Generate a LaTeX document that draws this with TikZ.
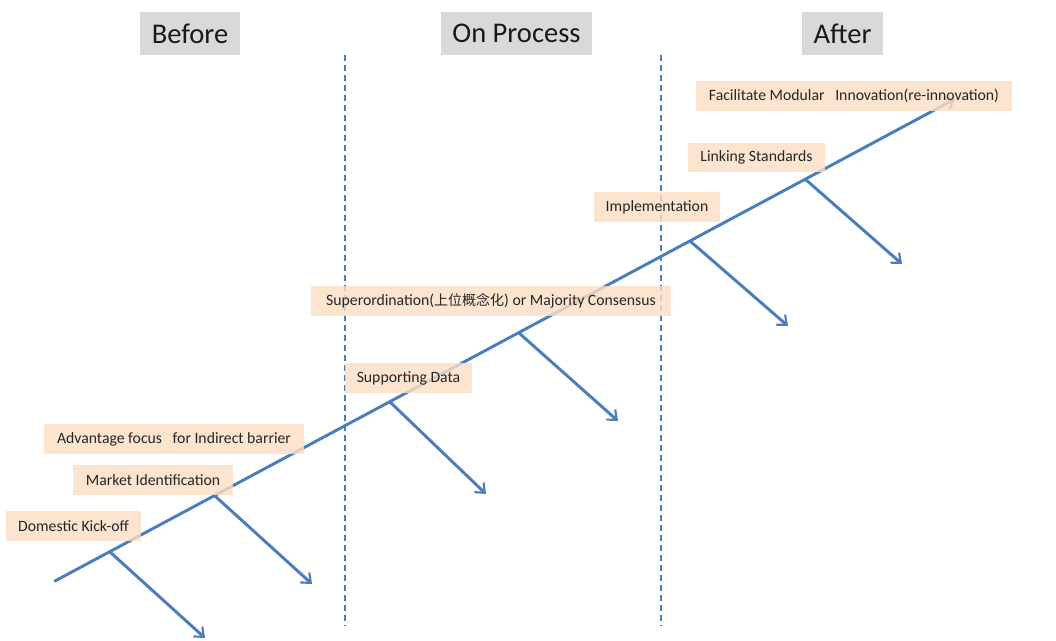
\documentclass[tikz,border=0pt]{standalone}
\usepackage{fontspec}
\setmainfont{Carlito}
\newfontfamily\cjk{Noto Sans CJK SC}
\usetikzlibrary{arrows.meta}
\definecolor{lineblue}{RGB}{74,126,187}
\definecolor{hdrgray}{RGB}{217,217,217}
\definecolor{peach}{RGB}{251,222,196}
\tikzset{
  hdr/.style={fill=hdrgray, inner sep=0pt, font=\fontsize{21.4}{24}\selectfont, text=black!90},
  tag/.style={fill=peach, fill opacity=0.82, text opacity=1, inner sep=0pt,
              minimum height=22.5pt, font=\fontsize{11.8}{13}\selectfont, text=black!85},
  spine/.style={draw=lineblue, line width=2.2pt, line cap=round,
                -{Straight Barb[length=6pt,width=10pt,line width=1.6pt]}},
  rib/.style={draw=lineblue, line width=2.2pt, line cap=round,
              -{Straight Barb[length=6pt,width=10pt,line width=1.6pt]}},
  phase/.style={draw=lineblue, line width=1.3pt, dash pattern=on 4.5pt off 3pt}
}
\begin{document}
\begin{tikzpicture}[x=0.75pt,y=-0.75pt]
\useasboundingbox (0,0) rectangle (1056,641);

% phase separators
\coordinate (d1t) at (345,55);  \coordinate (d1b) at (345,626);
\coordinate (d2t) at (661,55);  \coordinate (d2b) at (661,626);
\draw[phase] (d1t) -- (d1b);
\draw[phase] (d2t) -- (d2b);

% phase headers
\node[hdr, minimum width=75pt, minimum height=32.25pt] (before) at (190,33.5) {Before};
\node[hdr, minimum width=113.25pt, minimum height=32.25pt] (onproc) at (516.5,33.5) {On Process};
\node[hdr, minimum width=60.75pt, minimum height=32.25pt] (after) at (842.5,33.5) {After};

% main spine and its branch points
\coordinate (s0) at (55,581);
\coordinate (s1) at (955,99);
\coordinate (b1) at (110,552);
\coordinate (b2) at (215,496);
\coordinate (b3) at (390,402);
\coordinate (b4) at (519,333);
\coordinate (b5) at (690,241);
\coordinate (b6) at (805,179);
\coordinate (t1) at (205,638);
\coordinate (t2) at (312,584);
\coordinate (t3) at (486,494);
\coordinate (t4) at (618,421);
\coordinate (t5) at (788,326);
\coordinate (t6) at (902,264);

\draw[spine] (s0) -- (s1);
\foreach \i in {1,...,6} \draw[rib] (b\i) -- (t\i);

% step labels
\node[tag, minimum width=237pt] (fac) at (854,96) {Facilitate Modular\ \ \ Innovation(re-innovation)};
\node[tag, minimum width=102.75pt, minimum height=21.75pt] (link) at (756.5,157.5) {Linking Standards};
\node[tag, minimum width=94.5pt] (impl) at (657,207) {Implementation};
\node[tag, minimum width=270pt] (sup) at (491,301) {Superordination({\cjk\fontsize{10.5}{12}\selectfont 上位概念化}) or Majority Consensus};
\node[tag, minimum width=95.25pt] (data) at (408.5,378) {Supporting Data};
\node[tag, minimum width=195pt] (adv) at (174,439) {Advantage focus\ \ \ for Indirect barrier};
\node[tag, minimum width=120pt] (mkt) at (153,480) {Market Identification};
\node[tag, minimum width=101.25pt] (dom) at (73.5,526) {Domestic Kick-off};
\end{tikzpicture}
\end{document}
